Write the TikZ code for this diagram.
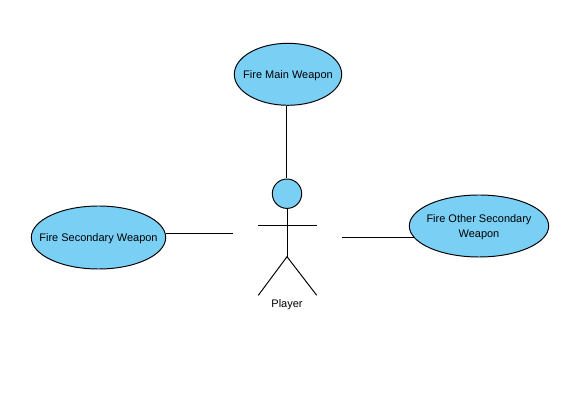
\documentclass[tikz,border=0pt]{standalone}
\usepackage{fontspec}
\setmainfont{Liberation Sans}
\usetikzlibrary{shapes.geometric}
\definecolor{usecaseblue}{HTML}{7ACFF5}
\tikzset{
	usecase/.style={ellipse,draw,fill=usecaseblue,line width=0.55pt,inner sep=0pt},
	usetext/.style={align=center,inner sep=0pt,yshift=-0.025cm,font=\fontsize{6.25}{8.55}\selectfont},
	stick/.style={line width=0.55pt}
}
\begin{document}
\begin{tikzpicture}
				\useasboundingbox (0,0) rectangle (11.58,8);
				\node[usecase,minimum width=2.148cm,minimum height=1.24cm] (fireMain) at (5.76,6.514) {};
				\node[usecase,minimum width=2.688cm,minimum height=1.26cm] (fireSecondary) at (1.97,3.25) {};
				\node[usecase,minimum width=2.788cm,minimum height=1.24cm] (fireOther) at (9.58,3.48) {};
				\node[usetext] (fireMainText) at (fireMain) {Fire Main Weapon};
				\node[usetext] (fireSecondaryText) at (fireSecondary) {Fire Secondary Weapon};
				\node[usetext] (fireOtherText) at (fireOther) {Fire Other Secondary\\Weapon};
				% actor
				\node[circle,draw,fill=usecaseblue,line width=0.55pt,inner sep=0pt,minimum size=0.588cm] (head) at (5.74,4.126) {};
				\coordinate (hip) at (5.74,2.866);
				\coordinate (armLeft) at (5.166,3.494);
				\coordinate (armRight) at (6.334,3.494);
				\coordinate (footLeft) at (5.166,2.094);
				\coordinate (footRight) at (6.334,2.094);
				\draw[stick] (head) -- (hip);
				\draw[stick] (armLeft) -- (armRight);
				\draw[stick] (footLeft) -- (hip) -- (footRight);
				\node[usetext] (player) at (5.74,1.93) {Player};
				% connectors
				\coordinate (topEnd) at (5.73,4.44);
				\coordinate (leftEnd) at (4.654,3.34);
				\coordinate (rightEnd) at (6.83,3.254);
				\draw[stick] (fireMain.south -| topEnd) -- (topEnd);
				\draw[stick] (fireSecondary.3.5) -- (fireSecondary.3.5 -| leftEnd);
				\draw[stick] (fireOther.190) -- (fireOther.190 -| rightEnd);
			\end{tikzpicture}
\end{document}
